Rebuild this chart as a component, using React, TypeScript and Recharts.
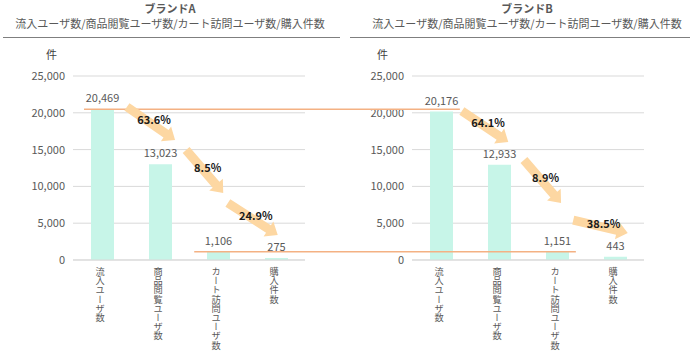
import { ComposedChart, Bar, XAxis, YAxis, CartesianGrid, ReferenceLine, LabelList } from "recharts";

const FONT = '"Noto Sans CJK JP", "Noto Sans", sans-serif';

const categories = ["流入ユーザ数", "商品閲覧ユーザ数", "カート訪問ユーザ数", "購入件数"];
const brandAValues = [20469, 13023, 1106, 275];
const brandBValues = [20176, 12933, 1151, 443];
const yTicks = [0, 5000, 10000, 15000, 20000, 25000];

// arrow ends in (category index, value) units: [x0, y0, x1, y1]
const brandAArrows = [
  [0.43, 20800, 1.26, 16300],
  [1.45, 14950, 2.09, 9100],
  [2.17, 7750, 3.03, 3400],
];
const brandBArrows = [
  [0.36, 20250, 1.16, 16030],
  [1.43, 13590, 2.07, 7750],
  [2.28, 5430, 3.22, 3670],
];

// orange guide lines that run across both panels (left panel's index units)
const guideLines = [
  { y: 20469, from: -0.31, to: 6.17 },
  { y: 1106, from: 1.59, to: 8.17 },
];

const fmt = (v: number) => v.toLocaleString("en-US");

const VerticalTick = (props: any) => {
  const { x, y, payload } = props;
  return (
    <text
      x={x - 2}
      y={y - 1}
      style={{ writingMode: "vertical-rl", textOrientation: "upright" }}
      fontSize={9.2}
      fill="#595959"
      fontFamily={FONT}
    >
      {payload.value}
    </text>
  );
};

const arrowShape = (label: string) => (props: any) => {
  const { x1, y1, x2, y2 } = props;
  const dx = x2 - x1;
  const dy = y2 - y1;
  const len = Math.hypot(dx, dy) || 1;
  const ux = dx / len;
  const uy = dy / len;
  const nx = -uy;
  const ny = ux;
  const sw = 4.5;
  const hw = 9;
  const hl = 11;
  const bx = x2 - ux * hl;
  const by = y2 - uy * hl;
  const pts = [
    [x1 + nx * sw, y1 + ny * sw],
    [bx + nx * sw, by + ny * sw],
    [bx + nx * hw, by + ny * hw],
    [x2, y2],
    [bx - nx * hw, by - ny * hw],
    [bx - nx * sw, by - ny * sw],
    [x1 - nx * sw, y1 - ny * sw],
  ]
    .map((p) => p.join(","))
    .join(" ");
  return (
    <g>
      <polygon points={pts} fill="#fdd7a2" />
      <text
        x={(x1 + x2) / 2 + 3}
        y={(y1 + y2) / 2 - 4}
        textAnchor="middle"
        dominantBaseline="central"
        fontSize={11}
        fontWeight={700}
        fill="#1a1a1a"
        fontFamily={FONT}
      >
        {label}
      </text>
    </g>
  );
};

interface BrandChartProps {
  values: number[];
  arrows: number[][];
  guides?: { y: number; from: number; to: number }[];
  marginLeft: number;
  marginRight: number;
  yWidth: number;
}

function BrandChart({ values, arrows, guides = [], marginLeft, marginRight, yWidth }: BrandChartProps) {
  const data = categories.map((name, i) => ({ name, idx: i, value: values[i] }));
  return (
    <ComposedChart
      width={350}
      height={315}
      data={data}
      margin={{ top: 36, right: marginRight, bottom: 5, left: marginLeft }}
    >
      <CartesianGrid xAxisId="cat" vertical={false} stroke="#d9d9d9" />
      <XAxis
        xAxisId="cat"
        dataKey="name"
        interval={0}
        tickLine={false}
        axisLine={{ stroke: "#d9d9d9" }}
        height={90}
        tick={<VerticalTick />}
      />
      <XAxis xAxisId="pos" dataKey="idx" type="number" domain={[-0.5, 3.5]} hide />
      <YAxis
        domain={[0, 25000]}
        ticks={yTicks}
        tickFormatter={fmt}
        axisLine={false}
        tickLine={false}
        width={yWidth}
        tick={{ fontSize: 11, fill: "#595959", fontFamily: FONT }}
      />
      <Bar xAxisId="cat" dataKey="value" fill="#c7f5e8" barSize={23} isAnimationActive={false}>
        <LabelList
          dataKey="value"
          position="top"
          offset={7}
          formatter={(v: any) => fmt(Number(v))}
          style={{ fontSize: 11, fill: "#595959", fontFamily: FONT }}
        />
      </Bar>
      {guides.map((g, i) => (
        <ReferenceLine
          key={"g" + i}
          xAxisId="pos"
          ifOverflow="visible"
          stroke="#f4b183"
          strokeWidth={1.5}
          segment={[
            { x: g.from, y: g.y },
            { x: g.to, y: g.y },
          ]}
        />
      ))}
      {arrows.map((a, i) => (
        <ReferenceLine
          key={"a" + i}
          xAxisId="pos"
          ifOverflow="visible"
          segment={[
            { x: a[0], y: a[1] },
            { x: a[2], y: a[3] },
          ]}
          shape={arrowShape(((values[i + 1] / values[i]) * 100).toFixed(1) + "%")}
        />
      ))}
    </ComposedChart>
  );
}

const titleStyle = {
  position: "absolute" as const,
  width: 340,
  textAlign: "center" as const,
  color: "#595959",
  whiteSpace: "nowrap" as const,
};

export default function App() {
  return (
    <div
      style={{
        position: "absolute",
        left: 0,
        top: 0,
        width: 700,
        height: 355,
        background: "#fff",
        fontFamily: FONT,
        overflow: "hidden",
      }}
    >
      <style>{`.recharts-surface{overflow:visible}`}</style>
      <div style={{ ...titleStyle, left: 0, top: 2, fontSize: 11, fontWeight: 700, lineHeight: "13px" }}>ブランドA</div>
      <div style={{ ...titleStyle, left: 0, top: 16, fontSize: 11, lineHeight: "14px" }}>
        流入ユーザ数/商品閲覧ユーザ数/カート訪問ユーザ数/購入件数
      </div>
      <div style={{ position: "absolute", left: 3, top: 37, width: 337, borderTop: "1.5px solid #7f7f7f" }} />
      <div style={{ ...titleStyle, left: 357, top: 2, fontSize: 11, fontWeight: 700, lineHeight: "13px" }}>ブランドB</div>
      <div style={{ ...titleStyle, left: 357, top: 16, fontSize: 11, lineHeight: "14px" }}>
        流入ユーザ数/商品閲覧ユーザ数/カート訪問ユーザ数/購入件数
      </div>
      <div style={{ position: "absolute", left: 350, top: 37, width: 340, borderTop: "1.5px solid #7f7f7f" }} />
      <div style={{ position: "absolute", left: 46, top: 46, fontSize: 11, color: "#404040" }}>件</div>
      <div style={{ position: "absolute", left: 377, top: 46, fontSize: 11, color: "#404040" }}>件</div>

      <div style={{ position: "absolute", left: 350, top: 40 }}>
        <BrandChart values={brandBValues} arrows={brandBArrows} marginLeft={2} marginRight={56} yWidth={60} />
      </div>
      <div style={{ position: "absolute", left: 0, top: 40 }}>
        <BrandChart
          values={brandAValues}
          arrows={brandAArrows}
          guides={guideLines}
          marginLeft={10}
          marginRight={45}
          yWidth={63}
        />
      </div>
    </div>
  );
}
